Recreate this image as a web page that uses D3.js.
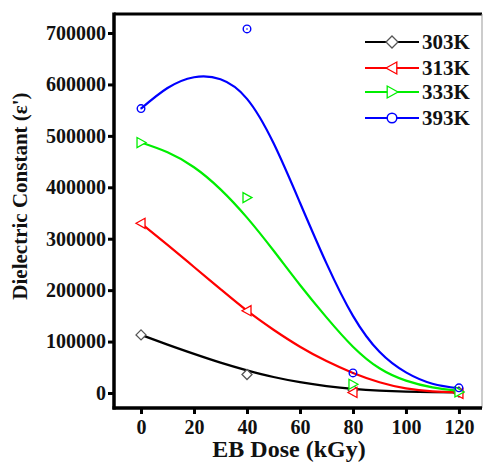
<!DOCTYPE html>
<html><head><meta charset="utf-8">
<script src="https://cdn.jsdelivr.net/npm/d3@7"></script>
<style>body{margin:0;background:#fff}svg{display:block}text{font-family:"Liberation Serif","Times New Roman",serif;font-weight:bold}</style>
</head><body><svg id="c" width="486" height="464"></svg>
<script>
// Measured data points (EB dose in kGy -> dielectric constant)
const doses = [0, 40, 80, 120];
const series = ["303K", "313K", "333K", "393K"];
const colors = ["#000000", "#ff0000", "#00ee00", "#0000ff"];
const vals303 = [113000, 36000, 6000, 2000];
const vals313 = [330000, 160000, 1000, -1000];
const vals333 = [487000, 380000, 17000, 2000];
const vals393 = [553000, 708000, 39000, 10000];
// Fitted curves
const fitX = [0, 10, 20, 30, 40, 50, 60, 70, 80, 90, 100, 110, 120];
const fit303 = [113000, 94000, 76000, 59000, 44000, 31000, 21000, 13500, 8000, 4500, 2500, 1500, 1000];
const fit313 = [330000, 288000, 245000, 202000, 160000, 123000, 90000, 62000, 39000, 21000, 9000, 3000, 1000];
const fit333 = [487000, 468000, 439000, 396000, 341000, 277000, 210000, 147000, 90000, 48000, 24000, 11000, 4000];
const fit393 = [553000, 593000, 614000, 610000, 572000, 486000, 370000, 252000, 150000, 80000, 40000, 18000, 9000];
const xTicks = [0, 20, 40, 60, 80, 100, 120];
const yTicks = [0, 100000, 200000, 300000, 400000, 500000, 600000, 700000];

const vals = [vals303, vals313, vals333, vals393];
const fits = [fit303, fit313, fit333, fit393];
const symbols = ["diamond", "left", "right", "circle"];

const svg = d3.select("#c");
const L = 114, R = 482, T = 14, B = 408;
const x = d3.scaleLinear().domain([-10.2, 128.7]).range([L, R]);
const y = d3.scaleLinear().domain([-29200, 737000]).range([B, T]);

// frame
svg.append("line").attr("x1", L).attr("x2", R).attr("y1", T).attr("y2", T).attr("stroke", "#000").attr("stroke-width", 3);
svg.append("line").attr("x1", R).attr("x2", R).attr("y1", T).attr("y2", B).attr("stroke", "#999").attr("stroke-width", 1);

function marker(g, type, cx, cy, color, s) {
  if (type === "circle") {
    g.append("circle").attr("cx", cx).attr("cy", cy).attr("r", s * 0.8).attr("fill", "#fff").attr("stroke", color).attr("stroke-width", 1.5);
  } else if (type === "diamond") {
    g.append("path").attr("d", `M${cx},${cy - s}L${cx + s},${cy}L${cx},${cy + s}L${cx - s},${cy}Z`).attr("fill", "#fff").attr("stroke", "#555").attr("stroke-width", 1.3);
  } else if (type === "left") {
    g.append("path").attr("d", `M${cx - s},${cy}L${cx + s * 0.8},${cy - s}L${cx + s * 0.8},${cy + s}Z`).attr("fill", "#fff").attr("stroke", color).attr("stroke-width", 1.3);
  } else {
    g.append("path").attr("d", `M${cx + s},${cy}L${cx - s * 0.8},${cy - s}L${cx - s * 0.8},${cy + s}Z`).attr("fill", "#fff").attr("stroke", color).attr("stroke-width", 1.3);
  }
}

const line = d3.line().x(d => x(d[0])).y(d => y(d[1])).curve(d3.curveNatural);
const plot = svg.append("g");
series.forEach((s, i) => {
  plot.append("path").datum(fitX.map((v, j) => [v, fits[i][j]]))
    .attr("d", line).attr("fill", "none").attr("stroke", colors[i]).attr("stroke-width", 2.2);
});
series.forEach((s, i) => {
  doses.forEach((d, j) => {
    const cx = x(d), cy = y(vals[i][j]);
    if (symbols[i] === "circle") {
      plot.append("circle").attr("cx", cx).attr("cy", cy).attr("r", 3.8).attr("fill", "none").attr("stroke", colors[i]).attr("stroke-width", 1.4);
      plot.append("circle").attr("cx", cx).attr("cy", cy).attr("r", 1).attr("fill", colors[i]).attr("opacity", 0.6);
    } else {
      marker(plot, symbols[i], cx, cy, colors[i], 5);
    }
  });
});

// axes
const xa = svg.append("g").attr("transform", `translate(0,${B})`)
  .call(d3.axisBottom(x).tickValues(xTicks).tickSize(6).tickSizeOuter(0).tickPadding(6));
const ya = svg.append("g").attr("transform", `translate(${L},0)`)
  .call(d3.axisLeft(y).tickValues(yTicks).tickFormat(d3.format("d")).tickSize(6).tickSizeOuter(0).tickPadding(2));
[xa, ya].forEach(a => {
  a.select(".domain").attr("stroke", "#000").attr("stroke-width", 3.5);
  a.selectAll(".tick line").attr("stroke", "#000").attr("stroke-width", 3);
  a.selectAll(".tick text").attr("fill", "#111").style("font-size", "20px");
});
xa.select(".domain").attr("d", `M${L - 1.5},0H${R}`);
ya.select(".domain").attr("d", `M0,${T - 1.5}V${B + 1.5}`);

svg.append("text").attr("x", 289).attr("y", 457).attr("text-anchor", "middle")
  .style("font-size", "24px").attr("fill", "#111").text("EB Dose (kGy)");
svg.append("text").attr("transform", "translate(27,196) rotate(-90)").attr("text-anchor", "middle")
  .style("font-size", "21px").attr("fill", "#111").text("Dielectric Constant (ε')");

// legend
const lg = svg.append("g");
const rowY = [42, 68, 92, 118];
series.forEach((s, i) => {
  lg.append("line").attr("x1", 365).attr("x2", 419).attr("y1", rowY[i]).attr("y2", rowY[i]).attr("stroke", colors[i]).attr("stroke-width", 2.2);
  marker(lg, symbols[i], 392, rowY[i], colors[i], 6);
  lg.append("text").attr("x", 422).attr("y", rowY[i] + 7).style("font-size", "21px").attr("fill", "#111").text(s);
});
</script></body></html>
